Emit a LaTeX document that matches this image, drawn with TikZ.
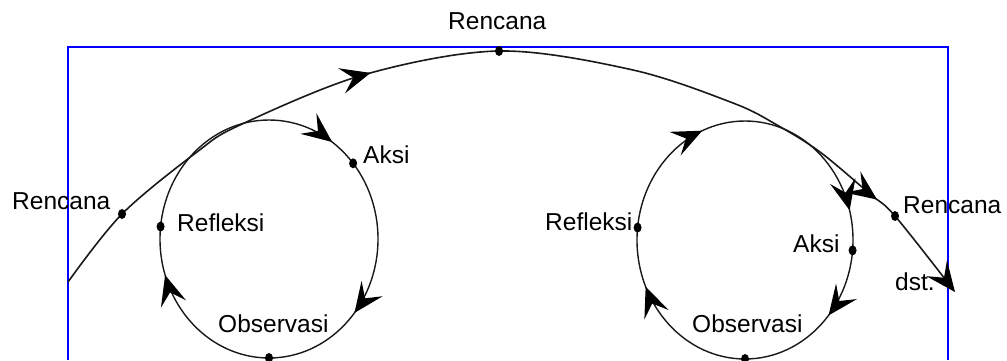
\documentclass[tikz,border=0pt]{standalone}
\usepackage{fontspec}
\setmainfont{Liberation Sans}
\usetikzlibrary{arrows.meta,decorations.markings,shapes.geometric}
\begin{document}
\begin{tikzpicture}[x=1pt,y=1pt,
  curve/.style={line width=1.6pt, black!90},
  ring/.style={line width=1.4pt, black!90},
  frame/.style={line width=2pt, blue},
  dot/.style={ellipse, fill=black, inner sep=0pt, minimum width=8pt, minimum height=10pt},
  lbl/.style={anchor=base west, inner sep=0pt, font=\fontsize{24.5}{28}\selectfont},
  arr/.tip={Stealth[length=30pt,width=26pt,inset=12pt,black]},
]
\useasboundingbox (0,0) rectangle (1007,360);
% frame
\coordinate (f1) at (68,0);
\coordinate (f2) at (68,313);
\coordinate (f3) at (948,313);
\coordinate (f4) at (948,0);
\draw[frame] (f1) -- (f2) -- (f3) -- (f4);

% big curve
\coordinate (s) at (68,78);
\coordinate (r1) at (122,146);
\coordinate (p1) at (197,208);
\coordinate (p1b) at (240,235);
\coordinate (m1) at (363,285);
\coordinate (top) at (499,309);
\coordinate (p2) at (633,290);
\coordinate (p3) at (733,257);
\coordinate (p4) at (777,235);
\coordinate (p5) at (820,208);
\coordinate (m2) at (870,166);
\coordinate (r2) at (895,144);
\coordinate (e) at (955,68);
\draw[curve, -arr, postaction=decorate, decoration={markings,
    mark=at position 376pt with {\arrow{arr}},
    mark=at position 922pt with {\arrow{arr}}}]
  plot[smooth, tension=0.55] coordinates {(s) (r1) (p1) (p1b) (m1) (top) (p2) (p3) (p4) (p5) (m2) (r2) (e)};

% left cycle
\coordinate (C1) at (269,121);
\path (C1) ++(109pt,0pt) coordinate (C1s);
\draw[ring, postaction=decorate, decoration={markings,
    mark=at position 0.110 with {\arrow{arr}},
    mark=at position 0.449 with {\arrow{arr}},
    mark=at position 0.845 with {\arrow{arr}}}]
  (C1s) arc[start angle=0, end angle=-360, x radius=109pt, y radius=119pt];

% right cycle
\coordinate (C2) at (745,120);
\path (C2) ++(108pt,0pt) coordinate (C2s);
\draw[ring, postaction=decorate, decoration={markings,
    mark=at position 0.113 with {\arrow{arr}},
    mark=at position 0.433 with {\arrow{arr}},
    mark=at position 0.688 with {\arrow{arr}},
    mark=at position 0.958 with {\arrow{arr}}}]
  (C2s) arc[start angle=0, end angle=-360, x radius=108pt, y radius=119pt];

% dots
\node[dot] (dr1) at (r1) {};
\node[dot] (dtop) at (top) {};
\node[dot] (dr2) at (r2) {};
\path (C1) ++(39.5:109pt and 119pt) node[dot] (la) {};
\path (C1) ++(174:109pt and 119pt) node[dot] (lr) {};
\path (C1) ++(270:109pt and 119pt) node[dot] (lo) {};
\path (C2) ++(174:108pt and 119pt) node[dot] (rr) {};
\path (C2) ++(-5:108pt and 119pt) node[dot] (ra) {};
\path (C2) ++(270:108pt and 119pt) node[dot] (ro) {};

% labels
\node[lbl] (t1) at (448,331) {Rencana};
\node[lbl] (t2) at (12,151) {Rencana};
\node[lbl] (t3) at (363,197) {Aksi};
\node[lbl] (t4) at (177,129) {Refleksi};
\node[lbl] (t5) at (218,28) {Observasi};
\node[lbl] (t6) at (545,130) {Refleksi};
\node[lbl] (t7) at (793,108) {Aksi};
\node[lbl] (t8) at (692,28) {Observasi};
\node[lbl] (t9) at (903,147) {Rencana};
\node[lbl] (t10) at (895,70) {dst.};
\end{tikzpicture}
\end{document}
